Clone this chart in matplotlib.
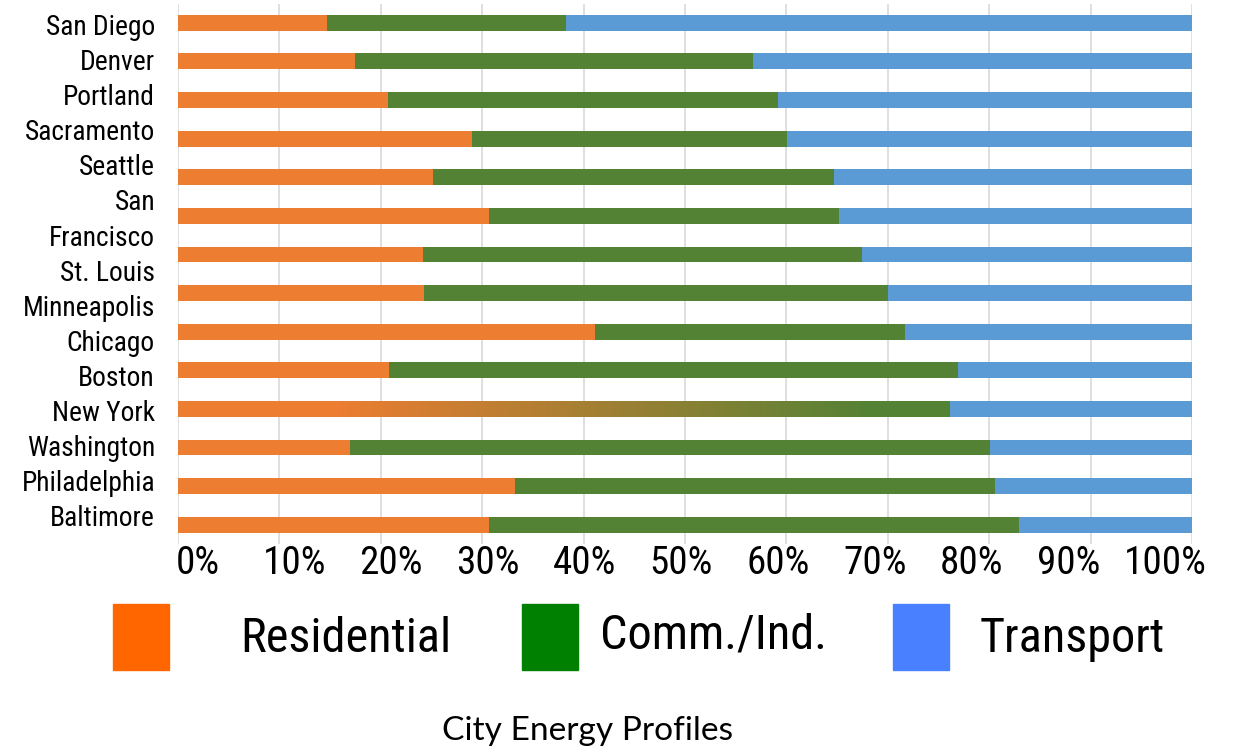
import numpy as np
import matplotlib
matplotlib.use("Agg")
import matplotlib.pyplot as plt
from matplotlib.patches import Rectangle
from matplotlib.colors import LinearSegmentedColormap

# ---------------- data ----------------
cities = ["San Diego", "Denver", "Portland", "Sacramento", "Seattle",
          "San\nFrancisco", "St. Louis", "Minneapolis", "Chicago", "Boston",
          "New York", "Washington", "Philadelphia", "Baltimore"]
residential = [14.7, 17.5, 20.7, 29.0, 25.1, 30.7, 24.2, 24.3, 41.1, 20.8, 40.0, 17.0, 33.2, 30.7]
comm_ind = [23.6, 39.2, 38.5, 31.1, 39.6, 34.5, 43.3, 45.7, 30.6, 56.1, 36.1, 63.1, 47.4, 52.2]
transport = [100 - r - c for r, c in zip(residential, comm_ind)]
blended_city = "New York"   # bar drawn with an orange-to-green fade in the source
series_names = ["Residential", "Comm./Ind.", "Transport"]
xticks = [0, 10, 20, 30, 40, 50, 60, 70, 80, 90, 100]
xtick_labels = ["0%", "10%", "20%", "30%", "40%", "50%", "60%", "70%", "80%", "90%", "100%"]
title = "City Energy Profiles"

# ---------------- style ----------------
W, H = 1236, 748
bar_colors = ["#ED7D31", "#548235", "#5B9BD5"]
legend_colors = ["#FF6600", "#008000", "#4880FF"]
narrow = ["Liberation Sans Narrow", "Roboto Condensed", "Roboto", "Liberation Sans"]

fig = plt.figure(figsize=(W / 100, H / 100), dpi=100)
ax_left, ax_right, ax_top, ax_bot = 178, 1192, 3.5, 544
ax = fig.add_axes([ax_left / W, 1 - ax_bot / H, (ax_right - ax_left) / W, (ax_bot - ax_top) / H])

y = np.arange(len(cities))
bh = 0.41
left = np.zeros(len(cities))
for vals, col in zip([residential, comm_ind, transport], bar_colors):
    ax.barh(y, vals, left=left, height=bh, color=col, edgecolor="none", zorder=2)
    left = left + np.array(vals)

# gradient bar for New York
i = cities.index(blended_city)
end = residential[i] + comm_ind[i]
cmap = LinearSegmentedColormap.from_list(
    "fade", [(0, bar_colors[0]), (0.2, bar_colors[0]), (0.9, bar_colors[1]), (1, bar_colors[1])])
grad = np.linspace(0, 1, 256).reshape(1, -1)
ax.imshow(grad, cmap=cmap, aspect="auto", extent=(0, end, y[i] + bh / 2, y[i] - bh / 2),
          zorder=3, interpolation="bilinear")

ax.set_xlim(0, 100)
ax.set_ylim(len(cities) - 0.5, -0.5)
ax.set_xticks(xticks)
ax.set_xticklabels([])
ax.set_yticks([])
ax.tick_params(axis="x", length=0)
ax.grid(axis="x", color="#D9D9D9", linewidth=1.2, zorder=0)
ax.set_axisbelow(True)
for s in ax.spines.values():
    s.set_visible(False)

# tick labels sit on a slightly narrower scale in the source
lab_l, lab_r = 197.5, 1165
axl = fig.add_axes([lab_l / W, 1 - ax_bot / H, (lab_r - lab_l) / W, 0.001])
axl.set_xlim(0, 100)
axl.set_xticks(xticks)
axl.set_xticklabels(xtick_labels, fontsize=28, family=narrow)
axl.set_yticks([])
axl.tick_params(axis="x", length=0, pad=1)
axl.patch.set_visible(False)
for s in axl.spines.values():
    s.set_visible(False)

# city labels (stacked text lines, as in the source)
lines = []
for c in cities:
    lines.extend(c.split("\n"))
base0, step = 35, 35.1
city_texts = []
for k, ln in enumerate(lines):
    city_texts.append(fig.text(155 / W, 1 - (base0 + k * step) / H, ln, ha="right",
                               va="baseline", fontsize=21, family=narrow))

# legend
patch_x = [113, 522, 893]
text_x = [240, 600, 980]
text_base = [652, 648, 652]
leg_texts = []
for px, tx, tb, col, name in zip(patch_x, text_x, text_base, legend_colors, series_names):
    fig.patches.append(Rectangle((px / W, 1 - 670 / H), 56 / W, 66 / H,
                                 transform=fig.transFigure, color=col, figure=fig))
    leg_texts.append(fig.text(tx / W, 1 - tb / H, name, ha="left", va="baseline",
                              fontsize=37.5, family=narrow))

ttl = fig.text(588 / W, 1 - 740 / H, title, ha="center", va="baseline", fontsize=21,
               family=["Lato", "DejaVu Sans"])

# fit text sizes to the widths measured on the source
fig.canvas.draw()
r = fig.canvas.get_renderer()


def scale_for(t, target):
    return target / t.get_window_extent(r).width


s_city = scale_for(city_texts[lines.index("Philadelphia")], 134)
for t in city_texts:
    t.set_fontsize(t.get_fontsize() * s_city)
tl = axl.get_xticklabels()
s_tick = scale_for(tl[-1], 83)
for t in tl:
    t.set_fontsize(t.get_fontsize() * s_tick)
s_leg = scale_for(leg_texts[0], 211)
for t in leg_texts:
    t.set_fontsize(t.get_fontsize() * s_leg)
ttl.set_fontsize(ttl.get_fontsize() * scale_for(ttl, 290))

fig.savefig("out.png", dpi=100, facecolor="white")
